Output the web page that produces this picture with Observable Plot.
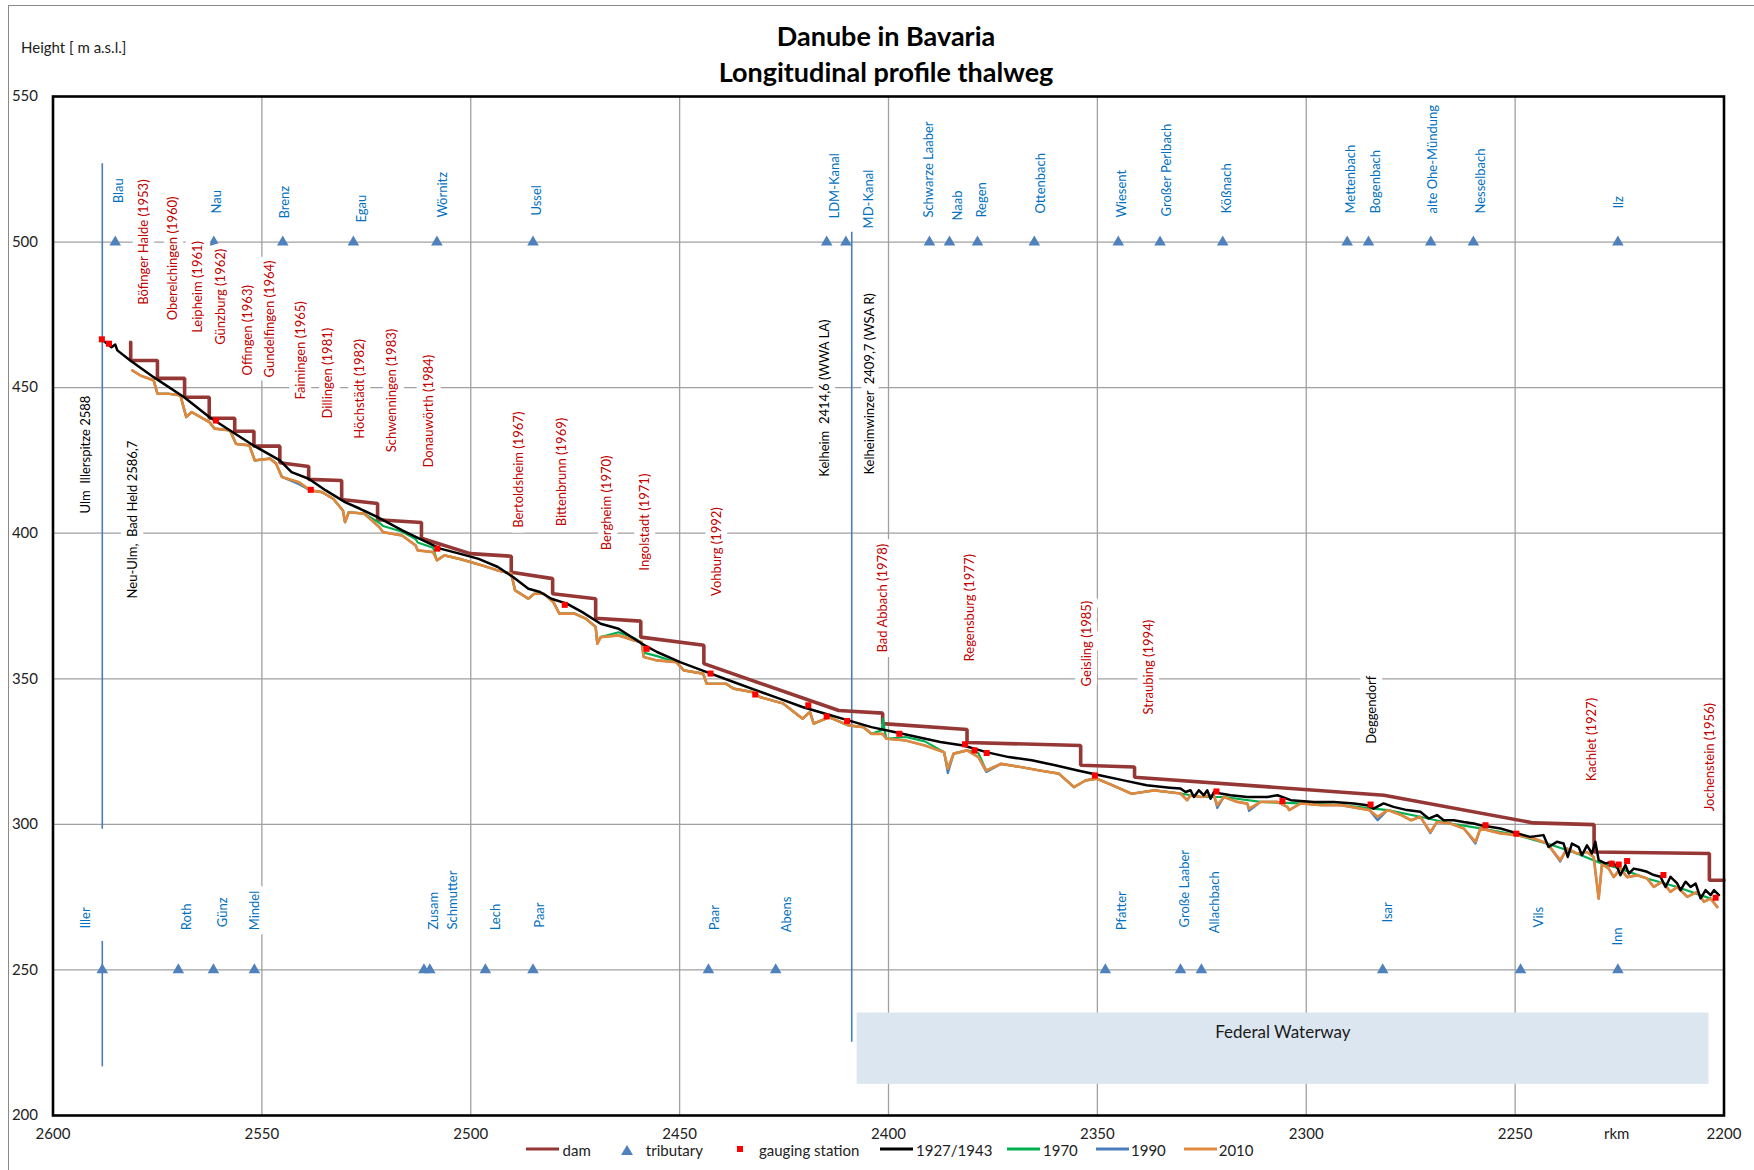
<!DOCTYPE html>
<html><head><meta charset="utf-8">
<script src="https://cdn.jsdelivr.net/npm/d3@7"></script>
<script src="https://cdn.jsdelivr.net/npm/@observablehq/plot@0.6"></script>
<style>
html,body{margin:0;padding:0;background:#fff;}
#wrap{position:relative;width:1754px;height:1170px;overflow:hidden;font-family:Lato,"Open Sans",sans-serif;background:#fff;}
#wrap svg{position:absolute;left:0;top:0;}
.ov{position:absolute;white-space:nowrap;color:#222;}
</style></head><body><div id="wrap"></div>
<script>
// ---------------- DATA ----------------
const xTicks = [2600, 2550, 2500, 2450, 2400, 2350, 2300, 2250, 2200];
const yTicks = [200, 250, 300, 350, 400, 450, 500, 550];

// dam (reservoir water level), step line
const damKm = [2581.4,2581.4,2575.0,2575.0,2568.5,2568.5,2562.6,2562.6,2556.5,2556.5,2551.9,2551.9,2545.7,2545.7,2538.8,2538.8,2530.9,2530.9,2522.3,2522.3,2511.8,2511.8,2500.1,2490.3,2490.3,2480.4,2480.4,2470.1,2470.1,2459.3,2459.3,2444.2,2444.2,2411.9,2401.4,2401.4,2381.2,2381.2,2354.0,2354.0,2341.1,2341.1,2281.4,2245.6,2231.1,2231.1,2203.5,2203.5,2200.0];
const damM  = [465.6,459.3,459.3,453.2,453.2,446.7,446.7,439.5,439.5,435.0,435.0,429.9,429.9,424.2,422.9,418.5,418.1,411.6,410.2,404.6,403.7,398.3,393.0,392.1,386.6,384.4,379.2,377.5,370.8,369.8,364.3,361.5,355.2,339.1,338.2,334.6,332.6,328.1,327.1,320.3,319.7,316.2,310.0,300.5,299.9,290.5,290.0,280.8,280.8];

// thalweg 1927/1943
const blackKm = [2588.2,2586.0,2585.1,2584.6,2581.5,2575.9,2568.6,2562.6,2557.6,2552.1,2545.7,2542.9,2538.8,2534.7,2530.1,2526.5,2522.3,2516.4,2511.8,2507.3,2502.7,2498.1,2493.5,2489.8,2486.2,2483.4,2480.7,2477.0,2473.3,2468.9,2464.6,2459.1,2455.4,2449.9,2443.5,2437.1,2431.6,2426.1,2420.6,2415.1,2409.6,2404.1,2398.6,2393.1,2387.6,2382.1,2376.6,2371.2,2365.7,2360.1,2354.7,2349.2,2343.7,2338.2,2332.7,2330.1,2328.9,2327.7,2326.9,2325.7,2324.5,2323.7,2322.9,2322.1,2320.5,2318.1,2314.1,2309.3,2306.9,2303.7,2298.2,2293.4,2288.6,2285.4,2283.9,2281.5,2279.1,2275.9,2272.7,2270.7,2268.7,2267.1,2264.7,2262.3,2259.9,2258.3,2253.5,2249.5,2246.4,2243.2,2242.0,2240.0,2238.4,2237.4,2236.4,2234.8,2234.0,2232.8,2231.6,2230.8,2230.0,2228.4,2226.8,2225.6,2224.8,2223.6,2222.8,2221.6,2220.0,2218.4,2216.8,2215.2,2214.0,2212.8,2211.2,2210.4,2209.2,2208.0,2206.8,2205.6,2204.4,2203.2,2202.4,2201.2];
const blackM  = [466.4,463.9,464.8,462.8,459.3,453.6,446.7,439.9,435.3,430.2,425.0,421.0,418.7,414.7,410.7,408.4,405.5,401.0,397.8,394.7,393.0,391.2,388.4,384.9,380.9,379.8,377.5,375.8,372.9,368.9,367.2,362.1,359.2,355.7,352.3,348.9,346.0,343.2,340.3,338.0,335.7,333.4,331.7,330.0,328.3,327.1,324.8,323.1,322.0,320.3,318.5,316.8,315.1,313.4,312.6,312.3,311.1,311.7,309.4,311.7,310.0,311.7,308.8,311.1,310.6,310.0,309.4,309.4,310.0,308.3,307.7,307.7,307.2,306.6,305.4,307.2,306.0,304.9,304.3,302.0,303.2,301.4,301.4,300.8,300.3,299.7,298.6,296.9,295.7,296.3,292.2,294.0,293.4,288.8,293.4,292.2,289.4,292.8,290.0,294.0,287.7,286.6,287.1,285.4,282.5,286.0,283.1,284.8,284.3,283.7,282.6,282.0,278.5,282.0,279.7,277.4,280.3,278.5,279.7,274.6,277.4,275.7,277.4,275.7];

// thalweg 2010
const orangeKm = [2581.0,2579.1,2575.9,2575.0,2572.3,2569.5,2568.1,2566.8,2562.6,2561.3,2557.6,2556.2,2553.0,2551.7,2548.0,2546.6,2545.2,2541.1,2538.4,2535.6,2532.9,2530.6,2530.1,2529.2,2525.5,2521.9,2521.0,2516.4,2513.2,2512.7,2509.0,2508.1,2506.3,2502.7,2497.2,2493.5,2490.3,2489.4,2486.2,2484.8,2482.5,2480.2,2478.8,2475.2,2472.4,2470.1,2469.7,2468.9,2464.6,2460.9,2459.1,2458.6,2455.4,2450.8,2449.0,2444.4,2443.5,2438.9,2437.1,2432.5,2430.7,2425.2,2420.6,2418.8,2417.9,2414.2,2409.6,2406.0,2404.1,2401.4,2400.5,2395.9,2391.3,2386.7,2385.8,2384.4,2381.2,2378.5,2376.6,2373.0,2368.4,2363.8,2359.2,2355.6,2352.8,2350.1,2346.4,2341.8,2336.4,2330.1,2328.5,2327.7,2325.3,2322.1,2321.3,2319.7,2316.5,2314.1,2313.7,2310.9,2306.9,2304.5,2304.1,2301.3,2296.5,2291.7,2286.9,2284.9,2282.9,2280.5,2277.3,2274.9,2272.7,2270.3,2268.7,2265.5,2262.3,2259.5,2258.3,2253.5,2249.5,2245.5,2242.3,2239.2,2237.6,2235.2,2232.8,2231.2,2230.0,2229.2,2227.6,2226.4,2224.8,2223.2,2220.8,2218.4,2216.8,2214.8,2212.8,2211.2,2208.8,2206.4,2204.8,2203.2,2201.6];
const orangeM  = [455.9,454.2,452.5,447.9,447.9,447.3,439.9,441.6,438.2,435.9,435.3,430.7,430.2,425.0,425.6,423.9,419.3,417.5,414.7,414.1,411.8,407.8,403.8,407.2,406.7,402.1,400.4,399.2,395.8,394.1,393.5,390.7,392.4,391.2,388.9,387.2,386.1,380.4,377.5,379.2,379.2,376.3,372.4,372.4,370.6,367.8,362.1,364.3,364.9,363.2,362.6,357.5,356.3,355.7,352.9,351.8,348.3,348.3,346.6,345.4,343.7,341.5,336.3,338.6,334.6,336.8,334.0,333.4,331.1,331.1,329.4,328.8,327.1,324.8,319.1,324.3,325.4,323.1,318.5,320.8,319.7,318.5,317.4,312.8,315.1,315.7,313.4,310.5,311.7,310.6,308.3,310.0,309.4,310.0,306.6,309.4,307.7,307.1,305.4,307.7,307.7,306.0,304.9,307.2,306.6,306.6,305.4,304.9,302.6,304.9,303.2,301.4,302.6,297.4,300.8,300.3,298.6,294.0,298.6,296.9,296.3,295.1,293.4,287.7,291.7,290.0,290.5,288.8,274.5,286.5,284.8,281.9,284.8,281.9,282.5,281.4,278.5,280.3,276.8,278.5,275.1,276.8,273.4,274.5,271.6];

// thalweg 1990 (mostly coincides with 2010)
const blueKm = [2581.0,2579.1,2575.9,2575.0,2572.3,2569.5,2568.1,2566.8,2562.6,2561.3,2557.6,2556.2,2553.0,2551.7,2548.0,2546.6,2545.2,2541.1,2538.4,2535.6,2532.9,2530.6,2530.1,2529.2,2525.5,2521.9,2521.0,2516.4,2513.2,2512.7,2509.0,2508.1,2506.3,2502.7,2497.2,2493.5,2490.3,2489.4,2486.2,2484.8,2482.5,2480.2,2478.8,2475.2,2472.4,2470.1,2469.7,2468.9,2464.6,2460.9,2459.1,2458.6,2455.4,2450.8,2449.0,2444.4,2443.5,2438.9,2437.1,2432.5,2430.7,2425.2,2420.6,2418.8,2417.9,2414.2,2409.6,2406.0,2404.1,2401.4,2400.5,2395.9,2391.3,2386.7,2385.8,2384.4,2381.2,2378.5,2376.6,2373.0,2368.4,2363.8,2359.2,2355.6,2352.8,2350.1,2346.4,2341.8,2336.4,2330.1,2328.5,2327.7,2325.3,2322.1,2321.3,2319.7,2316.5,2314.1,2313.7,2310.9,2306.9,2304.5,2304.1,2301.3,2296.5,2291.7,2286.9,2284.9,2282.9,2280.5,2277.3,2274.9,2272.7,2270.3,2268.7,2265.5,2262.3,2259.5,2258.3,2253.5,2249.5,2245.5,2242.3,2239.2,2237.6,2235.2,2232.8,2231.2,2230.0,2229.2,2227.6,2226.4,2224.8,2223.2,2220.8,2218.4,2216.8,2214.8,2212.8,2211.2,2208.8,2206.4,2204.8,2203.2,2201.6];
const blueM  = [455.9,454.2,452.5,447.9,447.9,447.3,439.9,441.6,438.2,435.9,435.3,430.7,430.2,425.0,425.6,423.9,419.3,416.8,414.7,414.1,411.8,407.8,403.8,407.2,406.7,402.1,400.4,399.2,395.8,394.1,393.5,390.7,392.4,391.2,388.9,387.2,386.1,380.4,377.5,379.2,379.2,376.3,372.4,372.4,370.6,367.8,362.1,364.3,364.9,363.2,362.6,357.5,356.3,355.7,352.9,351.8,348.3,348.3,346.6,345.4,343.7,341.5,336.3,338.6,334.6,336.8,334.0,333.4,331.1,331.1,329.4,328.8,327.1,324.8,317.6,324.3,325.4,323.1,318.0,320.8,319.7,318.5,317.4,312.8,315.1,315.7,313.4,310.5,311.7,310.6,308.3,310.0,309.4,310.0,305.6,309.4,307.7,307.1,304.6,307.7,307.7,306.0,304.9,307.2,306.6,306.6,305.4,304.9,301.4,304.9,303.2,301.4,302.6,297.0,300.8,300.3,298.6,293.4,298.6,296.9,296.3,295.1,293.4,287.2,291.7,290.0,290.5,288.8,274.5,286.5,284.8,281.9,284.8,281.9,282.5,281.4,278.5,280.3,276.8,278.5,275.1,276.8,273.4,274.5,271.6];

// thalweg 1970 (mostly hidden between 1927/1943 and 2010)
const greenKm = [2575.9,2575.0,2572.3,2569.5,2568.1,2566.8,2562.6,2561.3,2557.6,2556.2,2553.0,2551.7,2548.0,2546.6,2545.2,2541.1,2538.4,2535.6,2532.9,2530.6,2530.1,2529.2,2525.5,2521.9,2521.0,2516.4,2513.2,2512.7,2509.0,2508.1,2506.3,2502.7,2497.2,2493.5,2490.3,2489.4,2486.2,2484.8,2482.5,2480.2,2478.8,2475.2,2472.4,2470.1,2469.7,2468.9,2464.6,2460.9,2459.1,2458.6,2455.4,2450.8,2449.0,2444.4,2443.5,2438.9,2437.1,2432.5,2430.7,2425.2,2420.6,2418.8,2417.9,2414.2,2409.6,2406.0,2404.1,2401.6,2401.3,2400.9,2400.5,2395.9,2391.3,2386.7,2385.8,2384.4,2381.2,2378.5,2376.6,2373.0,2368.4,2363.8,2359.2,2355.6,2352.8,2350.1,2346.4,2341.8,2336.4,2330.1,2325.3,2319.7,2310.9,2301.3,2291.7,2280.5,2272.7,2265.5,2258.3,2249.5,2242.3,2235.2,2229.2,2224.8,2218.4,2211.2,2203.2];
const greenM  = [452.5,447.9,447.9,447.3,439.9,441.6,438.2,435.9,435.3,430.7,430.2,425.0,425.6,423.9,419.3,417.5,414.7,414.1,411.8,407.8,403.8,407.2,406.7,403.6,402.5,400.5,398.0,396.8,395.0,390.7,392.4,391.2,388.9,387.2,386.1,380.4,377.5,379.2,379.2,376.3,372.4,372.4,370.6,367.8,362.1,364.3,366.0,364.0,362.3,359.0,357.8,355.7,352.9,351.8,348.3,348.3,346.6,345.4,343.7,341.5,336.3,338.6,334.6,336.8,334.0,333.4,331.1,332.3,336.3,332.0,329.4,330.0,328.5,324.8,319.1,324.3,325.4,324.5,318.5,320.8,319.7,318.5,317.4,312.8,315.1,315.7,313.4,310.5,311.7,310.6,309.4,309.4,307.7,307.2,306.6,304.9,302.6,300.3,298.6,296.3,293.4,290.0,286.5,284.8,281.4,278.5,274.5];

// gauging stations
const gaugeKm = [2588.3,2586.6,2561.0,2538.3,2508.0,2477.5,2457.9,2442.6,2431.9,2419.2,2414.8,2409.9,2397.4,2381.7,2379.4,2376.5,2350.6,2321.5,2305.7,2284.6,2257.1,2249.7,2226.9,2225.2,2223.2,2214.5,2202.0];
const gaugeM  = [466.6,465.1,438.7,414.9,394.7,375.4,360.3,351.8,344.6,340.9,337.1,335.5,331.1,327.5,325.4,324.5,316.8,311.3,308.0,306.8,299.7,296.8,286.5,286.2,287.4,282.6,274.8];

// tributaries (row at 500 and row at 250)
const tribTopName = ["Blau","Nau","Brenz","Egau","Wörnitz","Ussel","LDM-Kanal","MD-Kanal","Schwarze Laaber","Naab","Regen","Ottenbach","Wiesent","Großer Perlbach","Kößnach","Mettenbach","Bogenbach","alte Ohe-Mündung","Nesselbach","Ilz"];
const tribTopKm = [2585.1,2561.5,2545.0,2528.1,2508.1,2485.1,2414.8,2410.2,2390.2,2385.4,2378.7,2365.1,2345.0,2335.0,2320.0,2290.2,2285.1,2270.2,2260.0,2225.4];
const tribTopLabelKm = [2584.2,2560.9,2544.4,2526.0,2506.8,2484.3,2412.8,2404.6,2390.4,2383.5,2377.6,2363.5,2344.1,2333.3,2319.1,2289.3,2283.4,2269.6,2258.3,2225.2];
const tribTopLabelM = [513.3,509.8,508.1,506.7,508.4,509.1,508.1,504.7,508.4,507.4,508.4,509.8,508.4,508.8,509.8,509.8,509.8,509.8,509.8,511.5];
const tribBotName = ["Iller","Roth","Günz","Mindel","Zusam","Schmutter","Lech","Paar","Paar","Abens","Pfatter","Große Laaber","Allachbach","Isar","Vils","Inn"];
const tribBotKm = [2588.2,2570.0,2561.6,2551.8,2511.2,2509.8,2496.5,2485.1,2443.1,2427.0,2348.1,2330.1,2325.1,2281.7,2248.7,2225.4];
const tribBotLabelKm = [2592.2,2568.0,2559.4,2551.7,2508.8,2504.3,2494.1,2483.4,2441.5,2424.3,2344.1,2329.0,2321.8,2280.5,2244.3,2225.4];
const tribBotLabelM = [264.2,263.6,264.7,263.6,263.9,263.9,263.6,264.5,263.6,262.9,263.6,264.6,262.6,266.3,264.6,258.4];

// dams (barrages) with year of construction
const damName = ["Böfinger Halde (1953)","Oberelchingen (1960)","Leipheim (1961)","Günzburg (1962)","Offingen (1963)","Gundelfingen (1964)","Faimingen (1965)","Dillingen (1981)","Höchstädt (1982)","Schwenningen (1983)","Donauwörth (1984)","Bertoldsheim (1967)","Bittenbrunn (1969)","Bergheim (1970)","Ingolstadt (1971)","Vohburg (1992)","Bad Abbach (1978)","Regensburg (1977)","Geisling (1985)","Straubing (1994)","Kachlet (1927)","Jochenstein (1956)"];
const damLabelKm = [2578.2,2571.4,2565.4,2559.9,2553.3,2548.0,2540.7,2534.3,2526.5,2519.0,2510.0,2488.4,2478.1,2467.5,2458.4,2441.2,2401.4,2380.5,2352.6,2337.7,2231.6,2203.5];
const damLabelM = [500.0,494.4,484.6,481.2,469.7,473.6,462.8,455.0,449.6,449.0,441.9,421.8,421.0,410.4,403.8,393.7,377.7,374.4,362.1,354.0,329.1,323.1];

// places
const placeName = ["Ulm  Illerspitze 2588","Neu-Ulm,  Bad Held 2586,7","Kelheim  2414,6 (WWA LA)","Kelheimwinzer  2409,7 (WSA R)","Deggendorf"];
const placeKm = [2592.2,2581.0,2415.3,2404.4,2284.2];
const placeM = [427.0,404.7,446.4,451.3,339.4];

// blue marker lines
const markKm = [2588.2,2588.2,2408.8];
const markTop = [526.9,259.8,503.4];
const markBottom = [298.3,216.7,225.2];

// federal waterway box
const fwKm = [2407.5,2203.6];
const fwM = [210.7,235.2];
const fwLabel = "Federal Waterway";
const fwLabelKm = 2305.6, fwLabelM = 228.6;

// ---------------- BUILD ----------------
const pts = (k, m) => k.map((v, i) => ({km: v, m: m[i]}));
const dam = pts(damKm, damM);
const black = pts(blackKm, blackM);
const green = pts(greenKm, greenM);
const blue = pts(blueKm, blueM);
const orange = pts(orangeKm, orangeM);
const gauges = pts(gaugeKm, gaugeM);
const tribTop = tribTopName.map((n, i) => ({name: n, km: tribTopKm[i], lkm: tribTopLabelKm[i], lm: tribTopLabelM[i]}));
const tribBot = tribBotName.map((n, i) => ({name: n, km: tribBotKm[i], lkm: tribBotLabelKm[i], lm: tribBotLabelM[i]}));
const dams = damName.map((n, i) => ({name: n, km: damLabelKm[i], m: damLabelM[i]}));
const places = placeName.map((n, i) => ({name: n, km: placeKm[i], m: placeM[i]}));
const marks = markKm.map((k, i) => ({km: k, top: markTop[i], bottom: markBottom[i]}));
const fw = [{x1: fwKm[0], x2: fwKm[1], y1: fwM[0], y2: fwM[1]}];

const C = {dam: "#953735", black: "#000000", green: "#00b050", blue: "#4a7ebb", orange: "#e0893e",
  gauge: "#ff0000", trib: "#4f81bd", tribText: "#0070c0", damText: "#c00000", grid: "#a0a0a0"};

const chart = Plot.plot({
  width: 1754, height: 1170,
  marginLeft: 52.5, marginRight: 30.5, marginTop: 96, marginBottom: 55,
  x: {domain: [2600, 2200], axis: null},
  y: {domain: [200, 550], axis: null},
  style: {fontFamily: "Lato, 'Open Sans', sans-serif", fontSize: "13px", background: "transparent", color: "#222"},
  marks: [
    Plot.gridY(yTicks.slice(1, -1), {stroke: C.grid, strokeOpacity: 1, strokeWidth: 1.3}),
    Plot.gridX(xTicks.slice(1, -1), {stroke: C.grid, strokeOpacity: 1, strokeWidth: 1.3}),
    Plot.rect(fw, {x1: "x1", x2: "x2", y1: "y1", y2: "y2", fill: "#dce6f1"}),
    Plot.text([fwLabel], {x: () => fwLabelKm, y: () => fwLabelM, text: d => d, fontSize: 17, fill: "#1a1a1a"}),
    Plot.ruleX(marks, {x: "km", y1: "top", y2: "bottom", stroke: C.blue, strokeWidth: 1.6}),
    Plot.line(dam, {x: "km", y: "m", stroke: C.dam, strokeWidth: 3.6, strokeLinejoin: "miter"}),
    Plot.line(blue, {x: "km", y: "m", stroke: C.blue, strokeWidth: 2.2}),
    Plot.line(green, {x: "km", y: "m", stroke: C.green, strokeWidth: 2.2}),
    Plot.line(orange, {x: "km", y: "m", stroke: C.orange, strokeWidth: 2.7}),
    Plot.line(black, {x: "km", y: "m", stroke: C.black, strokeWidth: 2.5}),
    Plot.dot(gauges, {x: "km", y: "m", symbol: "square", r: 3.4, fill: C.gauge, stroke: "none"}),
    Plot.dot(tribTop, {x: "km", y: () => 500, symbol: "triangle", r: 4.3, fill: C.trib, stroke: "none"}),
    Plot.dot(tribBot, {x: "km", y: () => 250, symbol: "triangle", r: 4.3, fill: C.trib, stroke: "none"}),
    Plot.frame({stroke: "#000", strokeWidth: 2.6}),
    Plot.axisX(xTicks, {tickSize: 0, tickPadding: 13, fontSize: 15, label: null, fill: "#222", tickFormat: d => String(d)}),
    Plot.axisY(yTicks, {tickSize: 0, tickPadding: 15, fontSize: 15, label: null, fill: "#222", tickFormat: d => String(d)}),
    Plot.text(tribTop, {x: "lkm", y: "lm", text: "name", rotate: -90, textAnchor: "start", fill: C.tribText, fontSize: 13}),
    Plot.text(tribBot, {x: "lkm", y: "lm", text: "name", rotate: -90, textAnchor: "start", fill: C.tribText, fontSize: 13, stroke: "white", strokeWidth: 12}),
    Plot.text(dams, {x: "km", y: "m", text: "name", rotate: -90, fill: C.damText, fontSize: 13, stroke: "white", strokeWidth: 12}),
    Plot.text(places, {x: "km", y: "m", text: "name", rotate: -90, fill: "#000", fontSize: 13, stroke: "white", strokeWidth: 12})
  ]
});
const wrap = document.getElementById("wrap");
wrap.appendChild(chart);

// outer chart border (left and top)
const border = document.createElement("div");
border.style.cssText = "position:absolute;left:8px;top:5px;width:1760px;height:1180px;border-left:1.5px solid #8a8a8a;border-top:1.5px solid #8a8a8a;pointer-events:none;";
wrap.appendChild(border);

function ov(html, css) {
  const d = document.createElement("div");
  d.className = "ov";
  d.innerHTML = html;
  d.style.cssText += css;
  wrap.appendChild(d);
  return d;
}
// title
ov("Danube in Bavaria<br>Longitudinal profile thalweg", "left:586px;top:18px;width:600px;text-align:center;font-weight:700;font-size:27px;line-height:36px;color:#000;white-space:normal;");
// y title
ov("Height [ m a.s.l.]", "left:21px;top:38px;font-size:15px;color:#222;");
// x title
ov("rkm", "left:1604px;top:1126px;font-size:15px;line-height:15px;color:#222;");

// legend
const legendItems = [
  {label: "dam", kind: "line", color: C.dam},
  {label: "tributary", kind: "tri", color: C.trib},
  {label: "gauging station", kind: "sq", color: C.gauge},
  {label: "1927/1943", kind: "line", color: C.black},
  {label: "1970", kind: "line", color: C.green},
  {label: "1990", kind: "line", color: C.blue},
  {label: "2010", kind: "line", color: C.orange}
];
const legendLayout = [[526, 562.6], [620, 645.8], [733, 759], [880.4, 916], [1006.7, 1043], [1095.5, 1131], [1183.5, 1218.7]];
legendItems.forEach((it, i) => {
  const [sx, tx] = legendLayout[i];
  let sw;
  if (it.kind === "line") sw = `<svg width="34" height="10"><line x1="0" y1="5" x2="33" y2="5" stroke="${it.color}" stroke-width="3"/></svg>`;
  else if (it.kind === "tri") sw = `<svg width="14" height="12"><path d="M7,1 L13,11 L1,11 Z" fill="${it.color}"/></svg>`;
  else sw = `<svg width="14" height="10"><rect x="4" y="2" width="6" height="6" fill="${it.color}"/></svg>`;
  ov(sw, `left:${sx}px;top:1144px;line-height:0;`);
  ov(it.label, `left:${tx}px;top:1143px;font-size:15px;line-height:14px;color:#222;`);
});
</script></body></html>
